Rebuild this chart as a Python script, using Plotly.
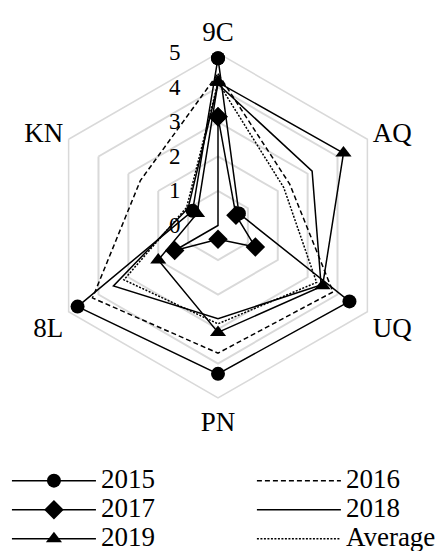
import plotly.graph_objects as go

categories = ["9C", "AQ", "UQ", "PN", "8L", "KN"]

v2015 = [4.85, 0.7, 4.4, 4.3, 4.7, 0.85]
v2016 = [4.4, 2.4, 3.85, 3.7, 4.2, 2.6]
v2017 = [3.15, 0.6, 1.25, 0.4, 1.45, 0.0]
v2018 = [4.1, 3.15, 3.45, 2.7, 3.5, 1.0]
v2019 = [4.15, 4.2, 3.5, 3.1, 2.0, 0.7]
v_avg = [4.15, 2.2, 3.3, 2.85, 3.15, 1.05]

FONT = "Liberation Serif, Times New Roman, serif"
GRID = "#d9d9d9"


def closed(vals):
    return vals + vals[:1]


theta = closed(categories)

# name, values, dash, marker, legend column
series = [
    ("2015", v2015, "solid", dict(symbol="circle", size=14), "legend"),
    ("2016", v2016, "5px,3px", None, "legend2"),
    ("2017", v2017, "solid", dict(symbol="diamond", size=15), "legend"),
    ("2018", v2018, "solid", None, "legend2"),
    ("2019", v2019, "solid", dict(symbol="triangle-up", size=14), "legend"),
    ("Average", v_avg, "2px,1.5px", None, "legend2"),
]

fig = go.Figure()
for name, vals, dash, marker, leg in series:
    fig.add_trace(go.Scatterpolar(
        r=closed(vals), theta=theta,
        mode="lines+markers" if marker else "lines",
        name=f"<span style='font-size:27px'>{name}</span>",
        legend=leg,
        line=dict(color="black", width=1.5, dash=dash),
        marker=dict(color="black", **marker) if marker else None,
    ))

legend_style = dict(
    orientation="v", yanchor="top", xanchor="left", y=-0.183,
    font=dict(size=20, family=FONT, color="black"),
    itemwidth=84, bgcolor="rgba(0,0,0,0)",
)

# the page body adds an 8px margin, so the figure is 16px smaller than the window
fig.update_layout(
    width=438, height=543,
    margin=dict(l=37, r=55, t=45, b=153, autoexpand=False),
    paper_bgcolor="white",
    font=dict(family=FONT, color="black"),
    polar=dict(
        bgcolor="white",
        gridshape="linear",
        radialaxis=dict(
            range=[0, 5], dtick=1, angle=90, tickangle=90,
            side="counterclockwise",
            showline=False, gridcolor=GRID, gridwidth=1.5,
            ticks="outside", ticklen=29, tickcolor="rgba(0,0,0,0)",
            tickfont=dict(size=23, family=FONT, color="black"),
            layer="below traces",
        ),
        angularaxis=dict(
            rotation=90, direction="clockwise",
            showgrid=False, showline=True, linecolor=GRID, linewidth=1.5,
            ticks="", tickfont=dict(size=27, family=FONT, color="black"),
            layer="below traces",
        ),
    ),
    showlegend=True,
    legend=dict(x=-0.110, **legend_style),
    legend2=dict(x=0.598, **legend_style),
)

fig.write_html("out.html")
